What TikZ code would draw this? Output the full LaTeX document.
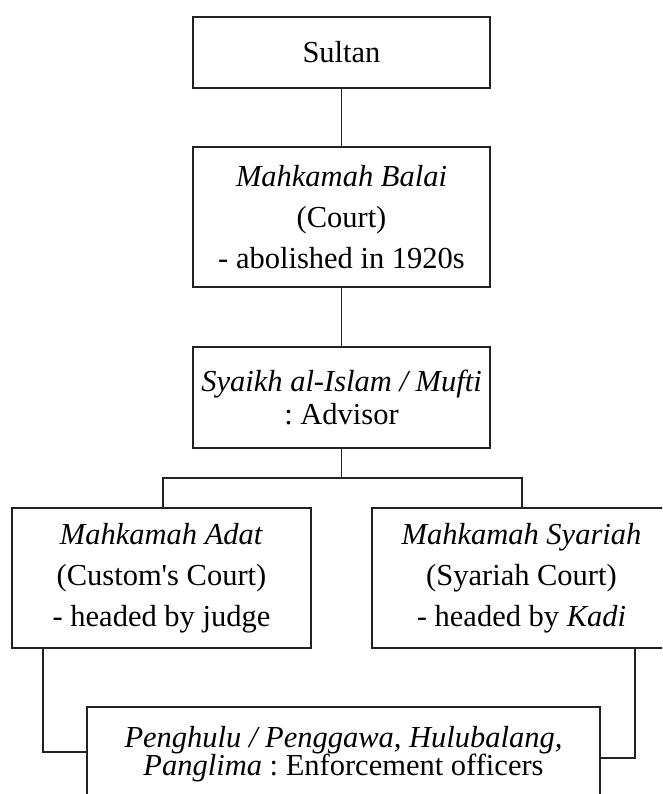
\documentclass[tikz,border=0pt]{standalone}
\usepackage{fontspec}
\setmainfont{Liberation Serif}[Ligatures=TeXOff]
\frenchspacing
\definecolor{ink}{HTML}{222222}
\begin{document}
\begin{tikzpicture}[x=1pt,y=-1pt,
  box/.style={draw=ink, line width=1.4pt, rectangle, inner sep=0pt,
    align=center, text=black, font=\fontsize{30.5}{41}\selectfont},
  link/.style={draw=ink, line width=1.4pt}]
\useasboundingbox (0,0) rectangle (662,794);
\clip (0,0) rectangle (662,794);

% hierarchy boxes
\node[box, minimum width=297, minimum height=71] (sultan) at (341.5,52.5) {Sultan};
\node[box, minimum width=297, minimum height=140] (balai) at (341.5,217)
  {\textit{Mahkamah Balai}\\(Court)\\- abolished in 1920s};
\node[box, minimum width=297, minimum height=101,
  font=\fontsize{30.5}{33}\selectfont] (mufti) at (341.5,397.5)
  {\textit{Syaikh al-Islam / Mufti}\\: Advisor};
\node[box, minimum width=299, minimum height=140] (adat) at (161.5,578)
  {\textit{Mahkamah Adat}\\(Custom's Court)\\- headed by judge};
\node[box, minimum width=299, minimum height=140] (syariah) at (521.5,578)
  {\textit{Mahkamah Syariah}\\(Syariah Court)\\- headed by \textit{Kadi}};
\node[box, minimum width=513, minimum height=94,
  font=\fontsize{30.5}{28}\selectfont] (officers) at (343.5,754)
  {\textit{Penghulu / Penggawa, Hulubalang,}\\\textit{Panglima} : Enforcement officers};

% connector bends
\coordinate (busL) at (163,478);
\coordinate (busR) at (522,478);
\coordinate (lbend) at (43,752);
\coordinate (rbend) at (635,758);

% connectors
\draw[link] (sultan.south) -- (balai.north);
\draw[link] (balai.south) -- (mufti.north);
\draw[link] (mufti.south) -- (mufti.south |- busL);
\draw[link] (adat.north -| busL) -- (busL) -- (busR) -- (busR |- syariah.north);
\draw[link] (adat.south -| lbend) -- (lbend) -- (lbend -| officers.west);
\draw[link] (syariah.south -| rbend) -- (rbend) -- (rbend -| officers.east);
\end{tikzpicture}
\end{document}
